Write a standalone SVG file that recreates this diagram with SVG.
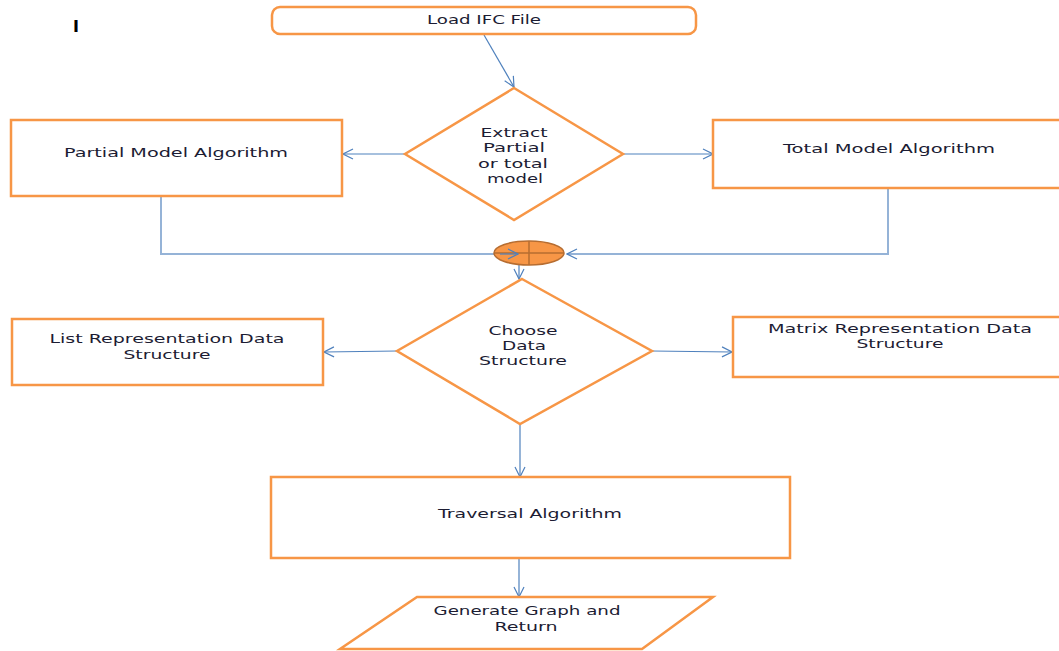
<svg xmlns="http://www.w3.org/2000/svg" width="1059" height="651" viewBox="0 0 1059 651">
<defs>
<marker id="arr" viewBox="0 0 12 12" refX="11" refY="6" markerWidth="12" markerHeight="12" markerUnits="userSpaceOnUse" orient="auto">
<path d="M1,1 L11,6 L1,11" fill="none" stroke="#4F81BD" stroke-width="1.2"/>
</marker>
</defs>
<style>
.n{fill:#fff;stroke:#F79646;stroke-width:2.5}
.t{font-family:"DejaVu Sans",Verdana,sans-serif;font-size:13px;fill:#1c1c33;text-anchor:middle}
.c{fill:none;stroke:#4F81BD;stroke-width:1.2}
.e{fill:none;stroke:#95B3D7;stroke-width:2}
</style>
<rect width="1059" height="651" fill="#fff"/>
<text x="76" y="32" style="font-family:'DejaVu Sans',sans-serif;font-size:16px;font-weight:bold;fill:#000;text-anchor:middle">I</text>
<g id="connectors">
<line class="c" x1="484" y1="35" x2="514" y2="87" marker-end="url(#arr)"/>
<line class="c" x1="405" y1="154" x2="343" y2="154" marker-end="url(#arr)"/>
<line class="c" x1="623" y1="154" x2="713" y2="154" marker-end="url(#arr)"/>
<polyline class="e" points="161,196 161,254 500,254"/>
<polyline class="e" points="888,188 888,254 580,254"/>
<line class="c" x1="519" y1="265" x2="519" y2="279" marker-end="url(#arr)"/>
<line class="c" x1="397" y1="351" x2="324" y2="352" marker-end="url(#arr)"/>
<line class="c" x1="652" y1="351" x2="732" y2="352" marker-end="url(#arr)"/>
<line class="c" x1="520" y1="424" x2="520" y2="477" marker-end="url(#arr)"/>
<line class="c" x1="519" y1="558" x2="519" y2="597" marker-end="url(#arr)"/>
</g>
<g id="load">
<rect class="n" x="272" y="7" width="424" height="27" rx="8"/>
<text class="t" x="484" y="24" textLength="114" lengthAdjust="spacingAndGlyphs">Load IFC File</text>
</g>
<g id="extract">
<polygon class="n" points="514,88 623,154 514,220 405,154"/>
<text class="t" x="514" y="137" textLength="67" lengthAdjust="spacingAndGlyphs">Extract</text>
<text class="t" x="514" y="152" textLength="62" lengthAdjust="spacingAndGlyphs">Partial</text>
<text class="t" x="513" y="168" textLength="70" lengthAdjust="spacingAndGlyphs">or total</text>
<text class="t" x="515" y="183" textLength="56" lengthAdjust="spacingAndGlyphs">model</text>
</g>
<g id="partial">
<rect class="n" x="11" y="120" width="331" height="76"/>
<text class="t" x="176" y="157" textLength="224" lengthAdjust="spacingAndGlyphs">Partial Model Algorithm</text>
</g>
<g id="total">
<rect class="n" x="713" y="120" width="360" height="68"/>
<text class="t" x="889" y="153" textLength="212" lengthAdjust="spacingAndGlyphs">Total Model Algorithm</text>
</g>
<g id="merge">
<ellipse cx="529" cy="253" rx="35" ry="12" fill="#F79646" stroke="#B66D31" stroke-width="1.5"/>
<line x1="529" y1="241" x2="529" y2="265" stroke="#B66D31" stroke-width="1.5"/>
<line x1="494" y1="253" x2="564" y2="253" stroke="#B66D31" stroke-width="1.5"/>
<line class="c" x1="500" y1="254" x2="518" y2="254" marker-end="url(#arr)"/>
<line class="c" x1="580" y1="254" x2="567" y2="254" marker-end="url(#arr)"/>
</g>
<g id="choose">
<polygon class="n" points="522,279 652,351 520,424 397,351"/>
<text class="t" x="523" y="335" textLength="69" lengthAdjust="spacingAndGlyphs">Choose</text>
<text class="t" x="524" y="350" textLength="44" lengthAdjust="spacingAndGlyphs">Data</text>
<text class="t" x="523" y="365" textLength="88" lengthAdjust="spacingAndGlyphs">Structure</text>
</g>
<g id="list">
<rect class="n" x="12" y="319" width="311" height="66"/>
<text class="t" x="167" y="343" textLength="235" lengthAdjust="spacingAndGlyphs">List Representation Data</text>
<text class="t" x="167" y="359" textLength="87" lengthAdjust="spacingAndGlyphs">Structure</text>
</g>
<g id="matrix">
<rect class="n" x="733" y="317" width="340" height="60"/>
<text class="t" x="900" y="333" textLength="264" lengthAdjust="spacingAndGlyphs">Matrix Representation Data</text>
<text class="t" x="900" y="348" textLength="87" lengthAdjust="spacingAndGlyphs">Structure</text>
</g>
<g id="traversal">
<rect class="n" x="271" y="477" width="519" height="81"/>
<text class="t" x="530" y="518" textLength="184" lengthAdjust="spacingAndGlyphs">Traversal Algorithm</text>
</g>
<g id="generate">
<polygon class="n" points="417,597 713,597 642,649 340,649"/>
<text class="t" x="527" y="615" textLength="187" lengthAdjust="spacingAndGlyphs">Generate Graph and</text>
<text class="t" x="526" y="631" textLength="63" lengthAdjust="spacingAndGlyphs">Return</text>
</g>
</svg>
